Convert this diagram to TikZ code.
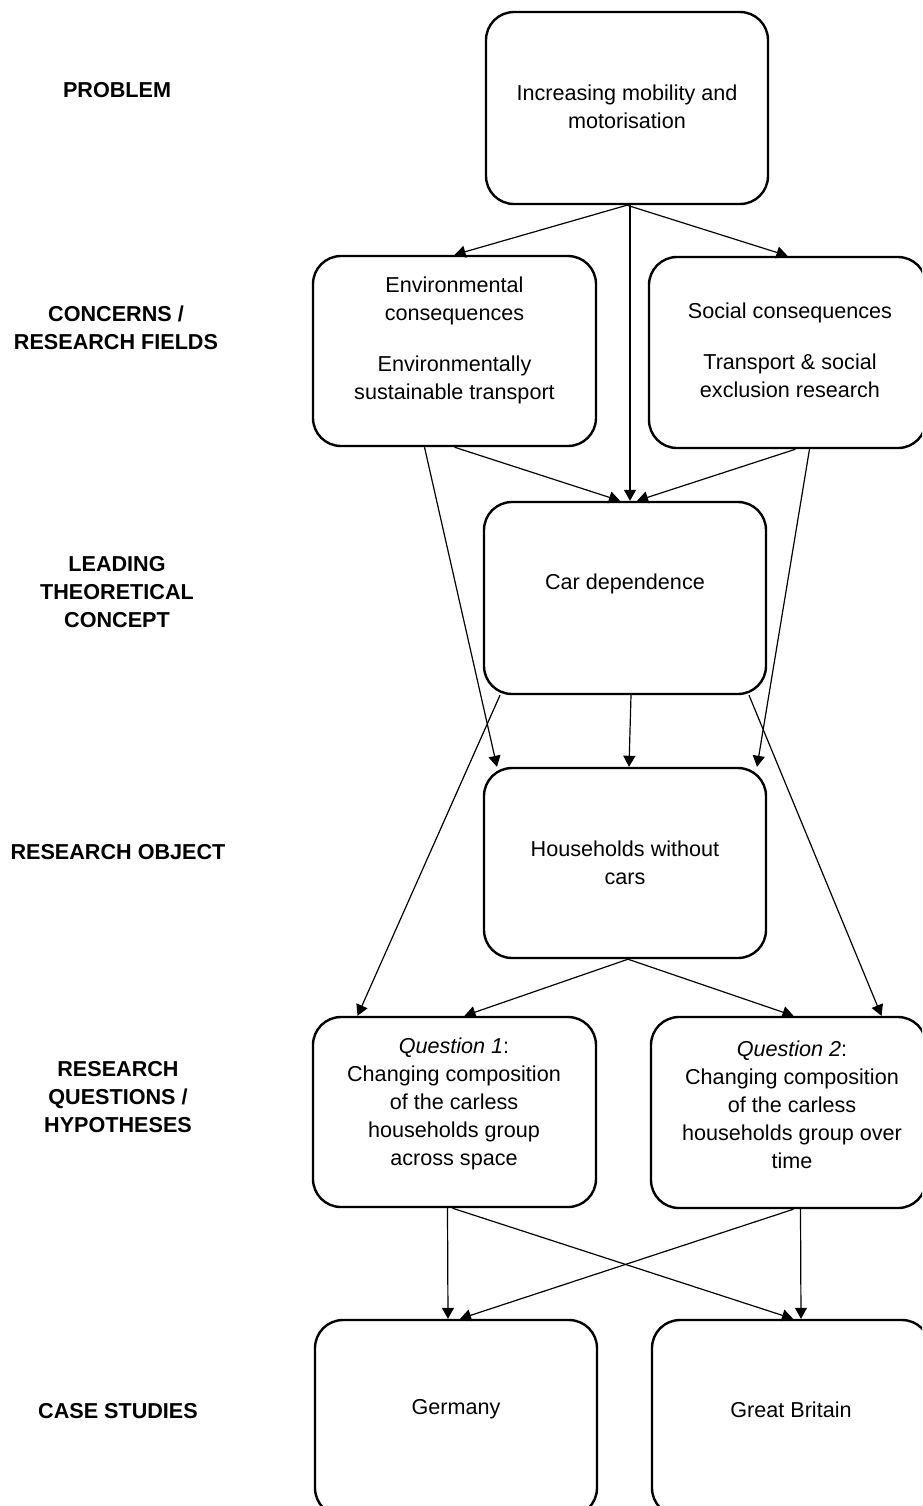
\documentclass[tikz,border=0pt]{standalone}
\usepackage{fontspec}
\setmainfont{Liberation Sans}
\usetikzlibrary{arrows.meta}
\begin{document}
\begin{tikzpicture}[x=0.5pt,y=-0.5pt,
  box/.style={draw, line width=1.2pt, rounded corners=14pt, inner sep=0pt},
  boxtext/.style={align=center, font=\fontsize{10.8pt}{14pt}\selectfont, inner sep=0pt},
  level/.style={align=center, font=\fontsize{10.8pt}{14.2pt}\selectfont\bfseries, inner sep=0pt},
  link/.style={line width=0.6pt, -{Triangle[length=5.5pt,width=6pt]}}]
\useasboundingbox (0,0) rectangle (922,1506);
\clip (0,0) rectangle (922,1506);

% row labels
\node[level] (lprob) at (117,90) {PROBLEM};
\node[level] (lconc) at (116,328) {CONCERNS /\\RESEARCH FIELDS};
\node[level] (llead) at (117,592) {LEADING\\THEORETICAL\\CONCEPT};
\node[level] (lobj) at (118,852) {RESEARCH OBJECT};
\node[level] (lques) at (118,1097) {RESEARCH\\QUESTIONS /\\HYPOTHESES};
\node[level] (lcase) at (118,1411) {CASE STUDIES};

% boxes
\node[box, minimum width=141pt, minimum height=96pt] (prob) at (627,108) {};
\node[box, minimum width=141.5pt, minimum height=95pt] (env) at (454.5,351) {};
\node[box, minimum width=138.5pt, minimum height=95.5pt] (soc) at (787.5,352.5) {};
\node[box, minimum width=141pt, minimum height=96pt] (car) at (625,598) {};
\node[box, minimum width=141pt, minimum height=95pt] (hh) at (625,863) {};
\node[box, minimum width=141.5pt, minimum height=95pt] (q1) at (454.5,1112) {};
\node[box, minimum width=137.5pt, minimum height=95.5pt] (q2) at (788.5,1112.5) {};
\node[box, minimum width=141pt, minimum height=98pt] (ger) at (456,1418) {};
\node[box, minimum width=139pt, minimum height=98pt] (gb) at (791,1418) {};

% box texts
\node[boxtext] (tprob) at (627,107) {Increasing mobility and\\motorisation};
\node[boxtext] (tenv) at (454.5,340) {Environmental\\consequences\\[11.5pt]Environmentally\\sustainable transport};
\node[boxtext] (tsoc) at (790,350) {Social consequences\\[11.5pt]Transport \& social\\exclusion research};
\node[boxtext] (tcar) at (625,584) {Car dependence};
\node[boxtext] (thh) at (625,863) {Households without\\cars};
\node[boxtext] (tq1) at (454,1104) {\textit{Question 1}:\\Changing composition\\of the carless\\households group\\across space};
\node[boxtext] (tq2) at (792,1105) {\textit{Question 2}:\\Changing composition\\of the carless\\households group over\\time};
\node[boxtext] (tger) at (456,1409) {Germany};
\node[boxtext] (tgb) at (791,1410) {Great Britain};

% connectors
\draw[link] (prob.south) -- (env.north);
\draw[link] ([xshift=1.5pt]prob.south) -- ([xshift=2.5pt]car.north);
\draw[link] (prob.south) -- (soc.north);

\draw[link] (env.south) -- ([xshift=-2.5pt]car.north);
\draw[link] ([xshift=-15pt]env.south) -- ([xshift=-64pt]hh.north);
\draw[link] ([xshift=4pt]soc.south) -- ([xshift=6pt]car.north);
\draw[link] ([xshift=11pt]soc.south) -- ([xshift=66pt]hh.north);

\draw[link] ([xshift=3pt]car.south) -- ([xshift=2pt]hh.north);
\draw[link] ([xshift=-62.5pt]car.south) -- ([xshift=-48.5pt]q1.north);
\draw[link] ([xshift=62pt]car.south) -- ([xshift=46.5pt]q2.north);

\draw[link] ([xshift=1.5pt]hh.south) -- ([xshift=5pt]q1.north);
\draw[link] ([xshift=1.5pt]hh.south) -- ([xshift=2.5pt]q2.north);

\draw[link] ([xshift=-3.5pt]q1.south) -- ([xshift=-4pt]ger.north);
\draw[link] ([xshift=-1pt]q1.south) -- ([xshift=1pt]gb.north);
\draw[link] ([xshift=2.5pt]q2.south) -- ([xshift=2pt]ger.north);
\draw[link] ([xshift=6pt]q2.south) -- ([xshift=5pt]gb.north);
\end{tikzpicture}
\end{document}
